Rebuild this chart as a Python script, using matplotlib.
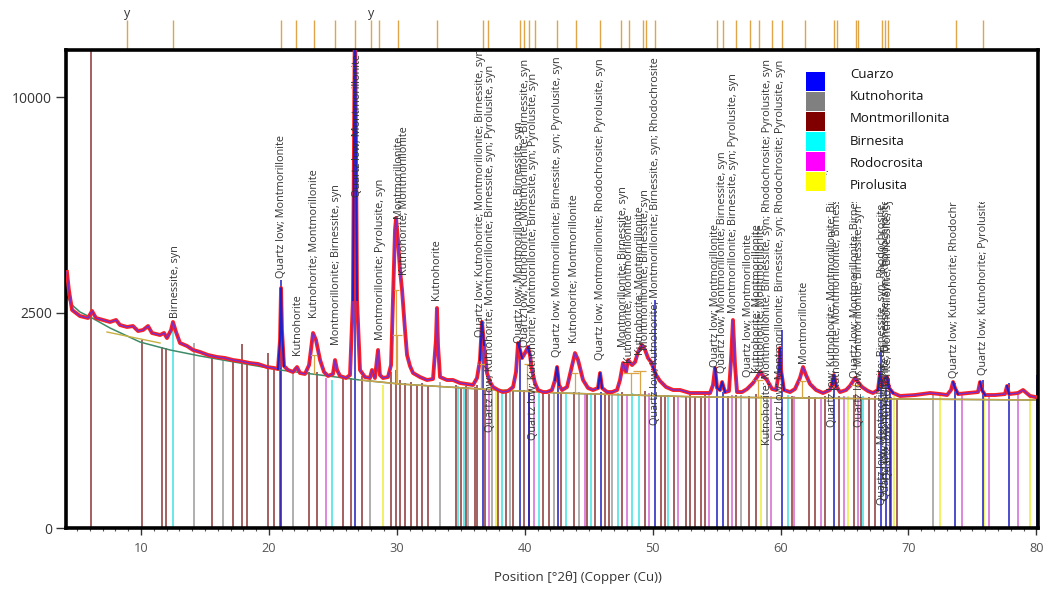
import numpy as np
import matplotlib
matplotlib.use("Agg")
import matplotlib.pyplot as plt
from matplotlib.patches import Rectangle
from matplotlib.transforms import blended_transform_factory

plt.rcParams['font.family'] = ['Open Sans', 'DejaVu Sans']

# ---------------- data ----------------
# observed / fitted profile (2theta, counts)
profile_2theta = [4.21, 4.36, 4.61, 5.23, 5.86, 6.17, 6.48, 7.03, 7.58, 8.05, 8.36, 8.91, 9.37, 9.77,
                  10.16, 10.55, 10.86, 11.49, 11.80, 12.03, 12.35, 12.50, 12.74, 13.05, 13.60, 14.07,
                  14.61, 15.24, 15.94, 16.57, 17.19, 17.74, 18.52, 19.15, 19.85, 20.40, 20.71, 20.87,
                  20.95, 21.02, 21.18, 21.49, 21.88, 22.20, 22.43, 22.82, 23.14, 23.45, 23.68, 24.00,
                  24.31, 24.62, 25.01, 25.17, 25.33, 25.56, 26.03, 26.34, 26.57, 26.73, 26.89, 27.12,
                  27.51, 27.90, 28.06, 28.29, 28.53, 28.68, 28.92, 29.31, 29.55, 29.70, 29.86, 29.94,
                  30.09, 30.25, 30.41, 30.64, 30.80, 31.03, 31.27, 31.81, 32.36, 32.83, 33.06, 33.14,
                  33.22, 33.38, 33.92, 34.39, 34.94, 35.49, 35.96, 36.27, 36.50, 36.66, 36.82, 37.05,
                  37.29, 37.52, 37.91, 38.30, 38.69, 39.09, 39.32, 39.48, 39.63, 39.79, 40.02, 40.26,
                  40.41, 40.57, 40.80, 41.04, 41.43, 41.74, 42.13, 42.37, 42.53, 42.68, 42.92, 43.31,
                  43.62, 43.93, 44.17, 44.56, 44.95, 45.34, 45.73, 45.89, 46.05, 46.44, 46.83, 47.22,
                  47.45, 47.69, 47.92, 48.08, 48.39, 48.63, 48.86, 49.17, 49.41, 49.64, 49.88, 50.03,
                  50.27, 50.58, 51.05, 51.60, 52.14, 52.92, 53.70, 54.49, 54.72, 54.88, 55.04, 55.27,
                  55.43, 55.66, 55.97, 56.13, 56.28, 56.44, 56.60, 56.99, 57.38, 57.85, 58.17, 58.40,
                  58.64, 58.94, 59.34, 59.65, 59.88, 59.96, 60.04, 60.27, 60.74, 61.13, 61.52, 61.76,
                  61.99, 62.31, 62.78, 63.32, 63.86, 64.03, 64.18, 64.34, 64.65, 65.12, 65.43, 65.83,
                  66.06, 66.37, 66.84, 67.23, 67.62, 67.78, 67.94, 68.17, 68.33, 68.48, 68.80, 69.34,
                  70.52, 71.69, 72.47, 73.02, 73.33, 73.49, 73.64, 73.88, 74.66, 75.44, 75.60, 75.75,
                  75.99, 76.77, 77.55, 77.71, 77.87, 78.57, 78.96, 79.51, 79.90]
profile_counts = [3528, 3049, 2559, 2418, 2374, 2535, 2374, 2329, 2285, 2329, 2218, 2175, 2196, 2089,
                  2110, 2196, 2047, 2005, 2047, 1943, 2110, 2285, 2068, 1842, 1783, 1706,
                  1668, 1611, 1574, 1556, 1519, 1501, 1465, 1448, 1395, 1378, 1361, 1903,
                  3101, 2110, 1412, 1344, 1310, 1395, 1293, 1277, 1430, 2047, 1903, 1519,
                  1310, 1244, 1277, 1519, 1344, 1244, 1211, 1260, 2798, 15000, 2798, 1344,
                  1227, 1211, 1344, 1211, 1706, 1260, 1211, 1227, 1430, 2798, 4780, 5174,
                  4465, 3583, 3049, 2110, 1611, 1412, 1293, 1227, 1179, 1195, 1903, 2605,
                  1803, 1227, 1179, 1179, 1132, 1116, 1101, 1211, 1519, 2285, 1803, 1293,
                  1147, 1070, 1025, 995, 1010, 1070, 1310, 1842, 1706, 1556, 1648, 1763,
                  1611, 1344, 1132, 1025, 995, 995, 1025, 1179, 1395, 1101, 1025, 1070,
                  1344, 1648, 1519, 1179, 1055, 1025, 1055, 1293, 1055, 995, 995, 1025,
                  1179, 1465, 1310, 1519, 1430, 1483, 1668, 1803, 1706, 1556, 1483, 1395,
                  1260, 1163, 1070, 1025, 1025, 981, 981, 981, 1101, 1378, 1055, 1025,
                  1147, 995, 1010, 1519, 2329, 1430, 995, 995, 1040, 1132, 1227, 1310,
                  1244, 1179, 1040, 1025, 1310, 1744, 1344, 1025, 995, 1040, 1211, 1395,
                  1260, 1116, 1025, 981, 1025, 1116, 1260, 1086, 995, 1025, 1086, 1211,
                  1147, 1070, 1010, 981, 1025, 1293, 1086, 1211, 1227, 1055, 981, 938,
                  952, 981, 966, 952, 1025, 1147, 1055, 966, 981, 995, 1147, 1025,
                  952, 952, 966, 1086, 966, 981, 1025, 938, 924]

# background
bg_2theta = [4.14, 4.61, 5.23, 6.17, 7.58, 9.92, 12.27, 14.61, 17.74, 20.87, 24.00, 27.12,
             30.25, 36.50, 42.76, 53.70, 69.34, 79.90]
bg_counts = [2923, 2677, 2512, 2374, 2153, 1862, 1706, 1593, 1465, 1344, 1260, 1179,
             1116, 1040, 981, 924, 896, 882]
local_bg_2theta = [7.34, 11.49]
local_bg_counts = [2068, 1842]

# reference patterns (stick positions, heights)
quartz_pos = [20.95, 26.73, 36.74, 39.63, 40.30, 42.60, 45.97, 50.19, 55.04, 55.50, 60.12,
              64.18, 67.86, 68.25, 68.56, 73.64, 75.83, 77.87, 80.06]
quartz_h = [3300, 15000, 2200, 1900, 1000, 1200, 1000, 2800, 1100, 1000, 2100,
            1050, 1700, 1250, 1100, 1130, 1180, 1130, 1260]
kutno_pos = [14.14, 16.41, 21.88, 27.90, 33.38, 35.57, 37.44, 38.85, 42.29, 44.25, 46.83,
             56.91, 58.94, 71.92]
kutno_h = [1842, 1519, 1344, 1211, 1147, 1070, 1025, 1010, 995, 995, 966, 952, 938, 952]
montm_pos = [6.09, 10.08, 11.64, 11.95, 15.55, 17.19, 17.90, 18.29, 19.93, 20.40, 20.87,
             23.14, 23.76, 25.79, 26.42, 27.28, 29.55, 29.94, 30.25, 30.64, 31.11, 31.58,
             31.97, 32.44, 34.63, 35.02, 35.40, 36.11, 36.27, 36.90, 37.95, 38.54, 39.09,
             39.95, 40.34, 41.43, 41.90, 42.84, 43.86, 44.90, 45.50, 46.28, 46.60, 47.61,
             49.41, 50.66, 50.95, 51.67, 52.61, 52.92, 53.32, 53.80, 54.10, 55.90, 56.52,
             57.54, 58.09, 60.90, 62.23, 62.70, 63.50, 64.58, 65.75, 66.30, 66.92, 67.39,
             68.65, 69.11]
montm_h = [15000, 1903, 1763, 1744, 1556, 1519, 1823, 1465, 1648, 1378, 1378,
           1310, 1310, 1211, 1211, 1244, 1310, 1344, 1179, 1132, 1147, 1101,
           1132, 1101, 1101, 1070, 1086, 1070, 1101, 1040, 1010, 981, 1010,
           1025, 1040, 981, 966, 981, 995, 981, 966, 966, 952, 995,
           1010, 952, 952, 938, 938, 952, 938, 938, 952, 938, 952,
           938, 966, 938, 938, 924, 938, 938, 952, 924, 924, 938,
           924, 910]
birn_pos = [12.50, 24.93, 34.79, 35.25, 38.23, 41.12, 43.23, 45.18, 47.30, 48.39, 48.94,
            51.20, 60.59, 66.45]
birn_h = [2285, 1179, 1086, 1070, 995, 981, 981, 966, 981, 981, 966, 952, 952, 938]
rhodo_pos = [24.46, 37.21, 40.73, 44.71, 48.00, 49.72, 51.99, 54.41, 56.21, 59.26, 61.06,
             63.17, 64.97, 66.06, 74.19, 76.30, 78.57]
rhodo_h = [1211, 1040, 1010, 981, 966, 981, 938, 952, 952, 938, 938, 924, 938, 938, 952,
           938, 952]
pyro_pos = [28.92, 37.76, 58.48, 65.28, 68.87, 72.47, 75.91, 79.51]
pyro_h = [1101, 1010, 952, 938, 938, 966, 952, 938]

phase_names = ['Cuarzo', 'Kutnohorita', 'Montmorillonita', 'Birnesita', 'Rodocrosita', 'Pirolusita']

# fitted peak markers (position, top, half width)
fit_pos = [23.50, 29.95, 30.00, 36.60, 40.20, 43.90, 48.30, 49.00, 58.20, 61.70, 65.80]
fit_top = [1611, 3049, 2005, 1450, 1450, 1300, 1290, 1320, 1180, 1160, 1100]
fit_hw = [0.25, 0.20, 0.40, 0.30, 0.25, 0.30, 0.60, 0.50, 0.40, 0.30, 0.35]

# peak list marks above the plot
peak_marks = [8.91, 12.50, 20.95, 22.12, 23.53, 25.17, 26.73, 27.98, 28.61, 30.10, 33.14,
              36.74, 37.13, 39.63, 39.95, 40.34, 40.81, 42.53, 44.01, 45.89, 47.53, 48.15,
              49.25, 49.48, 50.19, 55.04, 55.50, 56.52, 57.62, 58.32, 59.34, 60.12, 61.92,
              64.18, 64.42, 65.90, 66.06, 67.94, 68.17, 68.40, 73.72, 75.83]
y_marks = [8.91, 27.98]

# peak annotations (2theta, counts at text start, text)
label_2theta = [12.66, 21.02, 22.27, 23.60, 25.32, 26.89, 28.76, 30.17, 30.64, 33.14,
                36.58, 37.29, 39.63, 40.10, 40.65, 42.53, 43.93, 45.89, 47.69, 48.23,
                49.09, 49.41, 50.19, 54.88, 55.43, 56.36, 57.46, 58.17, 58.48, 59.02,
                59.96, 61.76, 64.10, 64.42, 65.83, 66.14, 67.94, 68.25, 68.48, 73.64, 75.83]
label_counts = [2374, 3364, 1611, 2374, 1803, 5898, 1903, 5174, 3446, 2798,
                1964, 496, 1842, 1763, 417, 1574, 1842, 1519, 1763, 1465,
                1611, 1706, 571, 1395, 1293, 2488, 1227, 1293, 1293, 371,
                417, 1465, 549, 1025, 1211, 549, 28, 42, 124, 1211, 1260]
label_text = [
    "Birnessite, syn",
    "Quartz low; Montmorillonite",
    "Kutnohorite",
    "Kutnohorite; Montmorillonite",
    "Montmorillonite; Birnessite, syn",
    "Quartz low; Montmorillonite",
    "Montmorillonite; Pyrolusite, syn",
    "Montmorillonite",
    "Kutnohorite; Montmorillonite",
    "Kutnohorite",
    "Quartz low; Kutnohorite; Montmorillonite; Birnessite, syn",
    "Quartz low; Kutnohorite; Montmorillonite; Birnessite, syn; Pyrolusite, syn",
    "Quartz low; Montmorillonite; Birnessite, syn",
    "Quartz low; Kutnohorite; Montmorillonite; Birnessite, syn",
    "Quartz low; Kutnohorite; Montmorillonite; Birnessite, syn; Pyrolusite, syn",
    "Quartz low; Montmorillonite; Birnessite, syn; Pyrolusite, syn",
    "Kutnohorite; Montmorillonite",
    "Quartz low; Montmorillonite; Rhodochrosite; Pyrolusite, syn",
    "Montmorillonite; Birnessite, syn",
    "Kutnohorite; Montmorillonite",
    "Kutnohorite; Montmorillonite",
    "Montmorillonite; Birnessite, syn",
    "Quartz low; Kutnohorite; Montmorillonite; Birnessite, syn; Rhodochrosite",
    "Quartz low; Montmorillonite",
    "Quartz low; Montmorillonite; Birnessite, syn",
    "Montmorillonite; Birnessite, syn; Pyrolusite, syn",
    "Quartz low; Montmorillonite",
    "Kutnohorite; Montmorillonite",
    "Kutnohorite; Montmorillonite",
    "Kutnohorite; Montmorillonite; Birnessite, syn; Rhodochrosite; Pyrolusite, syn",
    "Quartz low; Montmorillonite; Birnessite, syn; Rhodochrosite; Pyrolusite, syn",
    "Montmorillonite",
    "Quartz low; Kutnohorite; Montmorillonite; Birnessite, syn",
    "Kutnohorite; Montmorillonite; Birnessite, syn",
    "Quartz low; Montmorillonite; Birnessite, syn",
    "Quartz low; Montmorillonite; Birnessite, syn",
    "Quartz low; Montmorillonite; Birnessite, syn; Rhodochrosite",
    "Quartz low; Montmorillonite; Birnessite, syn; Rhodochrosite",
    "Quartz low; Kutnohorite; Montmorillonite; Birnessite, syn",
    "Quartz low; Kutnohorite; Rhodochrosite",
    "Quartz low; Kutnohorite; Pyrolusite, syn",
]

x_ticks = [10, 20, 30, 40, 50, 60, 70, 80]
y_ticks = [0, 2500, 10000]
y_ticklabels = ['0', '2500', '10000']

# ---------------- figure ----------------
W, H = 1048, 593
fig = plt.figure(figsize=(W / 100, H / 100), dpi=100)
ax = fig.add_axes([66 / W, (H - 528) / H, (1038 - 66) / W, (528 - 50) / H])

ax.set_yscale('function', functions=(lambda v: np.sqrt(np.clip(v, 0, None)),
                                     lambda v: np.square(v)))
ax.set_xlim(4.136, 80.13)
ax.set_ylim(0, 12300)

stick_cols = ['#1c1cc0', '#9a9a9a', '#8a3434', '#3fe3e3', '#d466d4', '#eeee3a']
stick_sets = [(quartz_pos, quartz_h), (kutno_pos, kutno_h), (montm_pos, montm_h),
              (birn_pos, birn_h), (rhodo_pos, rhodo_h), (pyro_pos, pyro_h)]
order = [2, 1, 3, 4, 5, 0]
for i in order:
    p, h = stick_sets[i]
    ax.vlines(p, 0, h, colors=stick_cols[i], lw=1.1, zorder=1.5 if i == 0 else 1)

bx = np.array(bg_2theta)
by = np.array(bg_counts)
ax.plot(bx, by, color='#3f8a68', lw=1.1, zorder=2)
m = bx >= 27
ax.plot(bx[m], by[m], color='#c9a24a', lw=1.1, zorder=2.1)
ax.plot(local_bg_2theta, local_bg_counts, color='#c8b040', lw=1.0, zorder=2.1)

# fitted peak markers
for p, t, w in zip(fit_pos, fit_top, fit_hw):
    base = np.interp(p, bx, by)
    ax.vlines(p, base, t, colors='#d9a441', lw=0.9, zorder=3.5)
    ax.hlines(t, p - w, p + w, colors='#d9a441', lw=0.9, zorder=3.5)

px_ = np.array(profile_2theta)
py_ = np.array(profile_counts)
ax.plot(px_, py_, color='#ff1f1f', lw=2.8, zorder=3, solid_joinstyle='round')
ax.plot(px_, py_, color='#7d2cc8', lw=1.0, zorder=4)
for q in quartz_pos:
    mq = np.abs(px_ - q) <= 0.25
    if mq.sum() >= 2:
        ax.plot(px_[mq], py_[mq], color='#2020c8', lw=1.4, zorder=4.5)

for t, c, s in zip(label_2theta, label_counts, label_text):
    ax.text(t, c, s, rotation=90, ha='center', va='bottom', fontsize=7.8,
            color='#333333', clip_on=True, zorder=6)

# peak marks above the axes
trans = blended_transform_factory(ax.transData, ax.transAxes)
ax.vlines(peak_marks, 1.0, 1.0 + 30 / 478, transform=trans, colors='#e0a548',
          lw=1.0, clip_on=False, zorder=0.5)
for t in y_marks:
    ax.text(t, 1.0 + 30 / 478, 'y', transform=trans, ha='center', va='bottom',
            fontsize=9, color='#333333', clip_on=False)

# axes styling
for s in ax.spines.values():
    s.set_linewidth(2.6)
    s.set_color('black')
ax.set_xticks(x_ticks)
ax.set_xticks(np.arange(5, 81, 1), minor=True)
ax.set_yticks(y_ticks)
ax.set_yticklabels(y_ticklabels)
ax.tick_params(axis='x', which='major', direction='out', length=5, width=1,
               labelsize=9.2, labelcolor='#555555', pad=5, color='#333333')
ax.tick_params(axis='x', which='minor', direction='out', length=2.5, width=0.8,
               color='#555555')
ax.tick_params(axis='y', which='major', direction='out', length=7, width=1,
               labelsize=10, labelcolor='#333333', pad=3, color='#333333')
ax.tick_params(axis='y', which='minor', left=False)

fig.text(578 / W, 1 - 578 / H, 'Position [°2θ] (Copper (Cu))', ha='center', va='center',
         fontsize=9.5, color='#333333')

# legend (figure-level so it covers the annotations)
fig.add_artist(Rectangle((828 / W, 1 - 202 / H), (1032 - 828) / W, (202 - 53) / H,
                         transform=fig.transFigure, facecolor='white', edgecolor='none',
                         zorder=10))
leg_cols = ['#0000ff', '#808080', '#800000', '#00ffff', '#ff00ff', '#ffff00']
for i, (name, col) in enumerate(zip(phase_names, leg_cols)):
    top = 72 + 20 * i
    fig.add_artist(Rectangle((806 / W, 1 - (top + 19) / H), 19 / W, 19 / H,
                             transform=fig.transFigure, facecolor=col, edgecolor='none',
                             zorder=11))
    fig.text(850 / W, 1 - (74.5 + 22.2 * i) / H, name, ha='left', va='center',
             fontsize=9.5, color='#111111', zorder=11)

fig.savefig('out.png', dpi=100)
